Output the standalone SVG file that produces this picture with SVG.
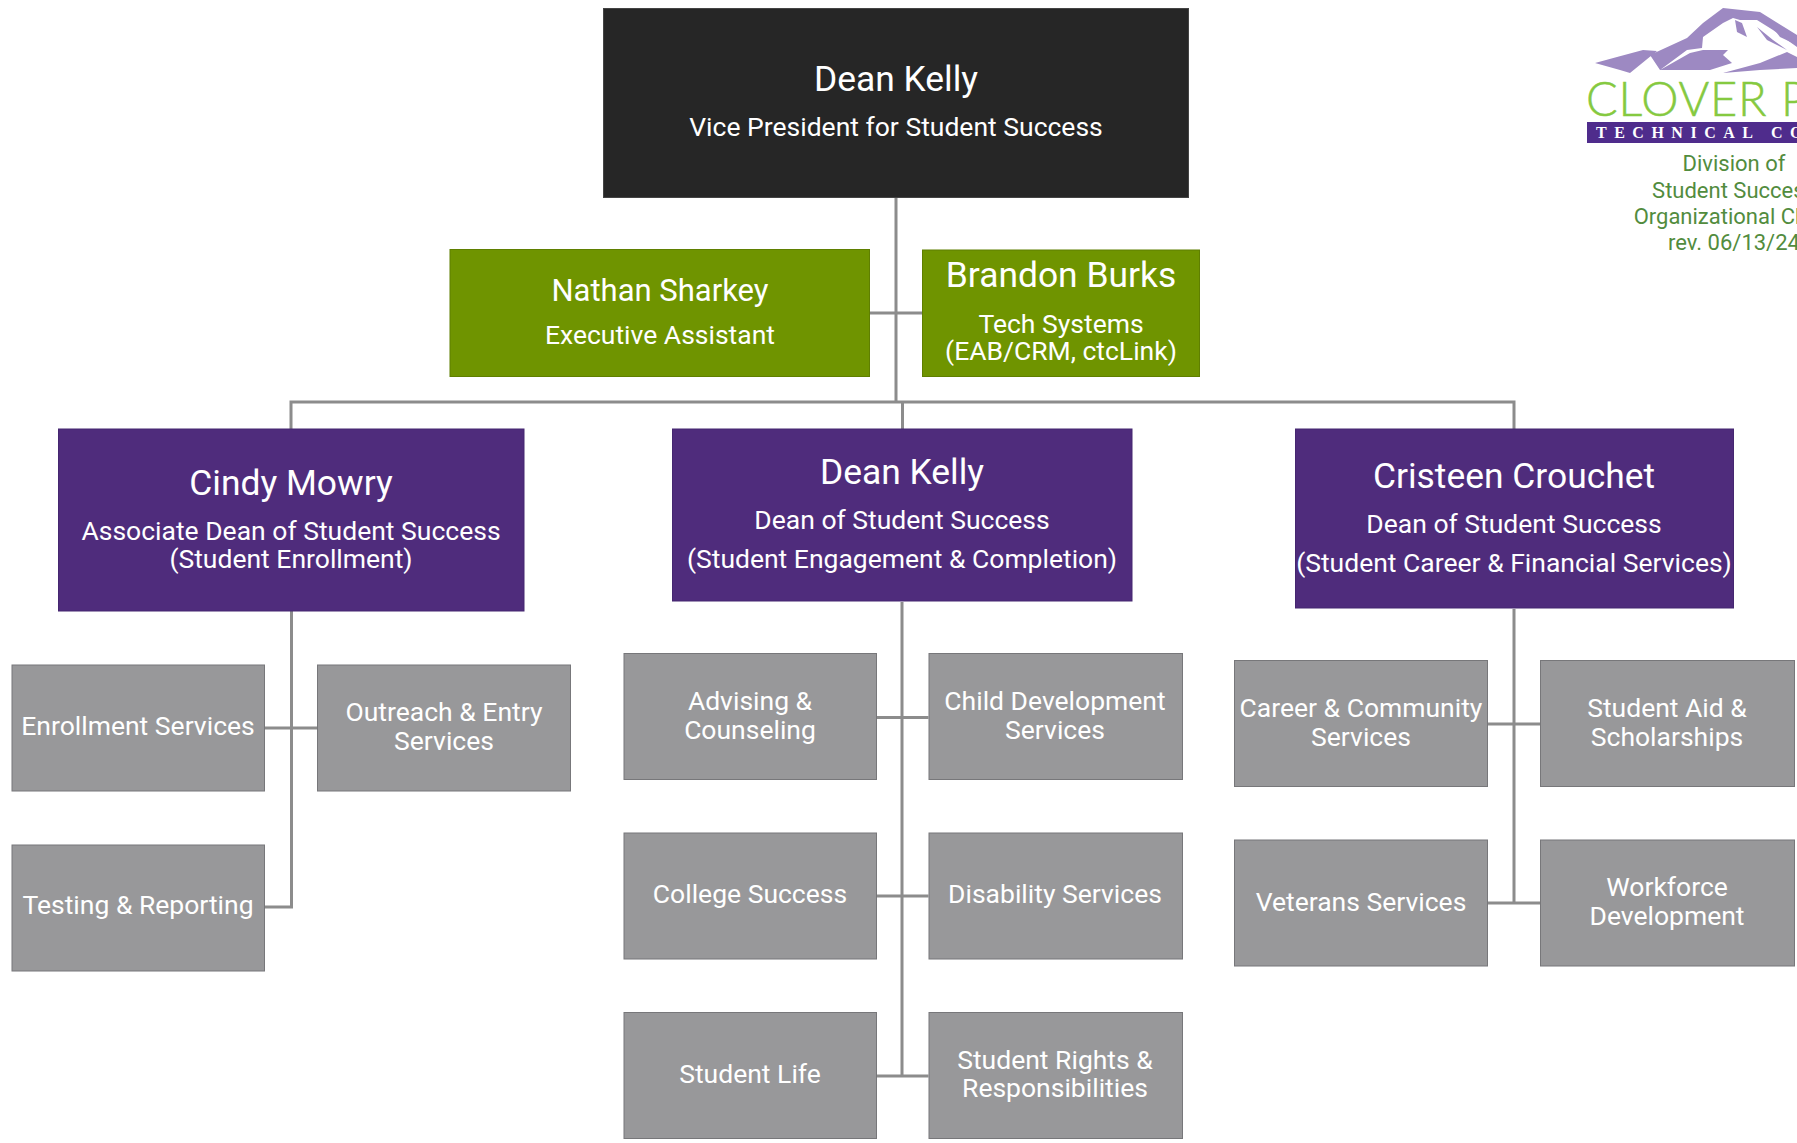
<svg xmlns="http://www.w3.org/2000/svg" width="1797" height="1143" viewBox="0 0 1797 1143">
<style>
text{font-family:Roboto,"Liberation Sans",sans-serif;fill:#fff;text-anchor:middle}
.n{font-size:35.400px}.m{font-size:31px}.s{font-size:26.500px}.g{font-size:26.500px}
.c{fill:none;stroke:#8c8c8c;stroke-width:3}
.bk{fill:#262626;stroke:#444;stroke-width:1}
.gr{fill:#6f9400;stroke:#5f7f00;stroke-width:1}
.pu{fill:#4f2c7c;stroke:#452670;stroke-width:1}
.gy{fill:#98989a;stroke:#77777a;stroke-width:1}
.t{fill:#528c3e;font-size:22px}
.mt{fill:#9d89c2}
</style>
<rect width="1797" height="1143" fill="#fff"/>
<g id="connectors" class="c">
<path class="c" d="M896 198V402M870 313H922M291 429V402H1514V429M902.500 402V429"/>
<path class="c" d="M291.500 611V907H265M265 728H317"/>
<path class="c" d="M902 602V1076M877 717.500H928.500M877 896H928.500M877 1076H928.500"/>
<path class="c" d="M1514 609V903M1488 724H1540M1488 903H1540"/>
</g>
<g id="n-vp"><rect class="bk" x="603.500" y="8.500" width="585" height="189"/><text class="n" x="896" y="90.500">Dean Kelly</text><text class="s" x="896" y="136">Vice President for Student Success</text></g>
<g id="n-nathan"><rect class="gr" x="450" y="249.500" width="419.500" height="127"/><text class="m" x="660" y="301">Nathan Sharkey</text><text class="s" x="660" y="343.500">Executive Assistant</text></g>
<g id="n-brandon"><rect class="gr" x="922.500" y="250" width="277" height="126.500"/><text class="n" x="1061" y="286.500">Brandon Burks</text><text class="s" x="1061" y="333">Tech Systems</text><text class="s" x="1061" y="360">(EAB/CRM, ctcLink)</text></g>
<g id="n-cindy"><rect class="pu" x="58.500" y="429" width="465.500" height="182"/><text class="n" x="291" y="494.500">Cindy Mowry</text><text class="s" x="291" y="540">Associate Dean of Student Success</text><text class="s" x="291" y="568">(Student Enrollment)</text></g>
<g id="n-dean2"><rect class="pu" x="672.500" y="429" width="459.500" height="172"/><text class="n" x="902" y="483.500">Dean Kelly</text><text class="s" x="902" y="529">Dean of Student Success</text><text class="s" x="902" y="568">(Student Engagement &amp; Completion)</text></g>
<g id="n-cristeen"><rect class="pu" x="1295.500" y="429" width="438" height="179"/><text class="n" x="1514" y="487.500">Cristeen Crouchet</text><text class="s" x="1514" y="533">Dean of Student Success</text><text class="s" x="1514" y="572">(Student Career &amp; Financial Services)</text></g>
<g id="n-enroll"><rect class="gy" x="12" y="665" width="252.500" height="126"/><text class="g" x="138" y="735">Enrollment Services</text></g>
<g id="n-outreach"><rect class="gy" x="317.500" y="665" width="253" height="126"/><text class="g" x="444" y="721">Outreach &amp; Entry</text><text class="g" x="444" y="750">Services</text></g>
<g id="n-testing"><rect class="gy" x="12" y="845" width="252.500" height="126"/><text class="g" x="138" y="914">Testing &amp; Reporting</text></g>
<g id="n-advising"><rect class="gy" x="624" y="653.500" width="252.500" height="126"/><text class="g" x="750" y="710">Advising &amp;</text><text class="g" x="750" y="739">Counseling</text></g>
<g id="n-child"><rect class="gy" x="929" y="653.500" width="253.500" height="126"/><text class="g" x="1055" y="710">Child Development</text><text class="g" x="1055" y="739">Services</text></g>
<g id="n-college"><rect class="gy" x="624" y="833" width="252.500" height="126"/><text class="g" x="750" y="903">College Success</text></g>
<g id="n-disability"><rect class="gy" x="929" y="833" width="253.500" height="126"/><text class="g" x="1055" y="903">Disability Services</text></g>
<g id="n-life"><rect class="gy" x="624" y="1012.500" width="252.500" height="126"/><text class="g" x="750" y="1083">Student Life</text></g>
<g id="n-rights"><rect class="gy" x="929" y="1012.500" width="253.500" height="126"/><text class="g" x="1055" y="1069">Student Rights &amp;</text><text class="g" x="1055" y="1097">Responsibilities</text></g>
<g id="n-career"><rect class="gy" x="1234.500" y="660.500" width="253" height="126"/><text class="g" x="1361" y="717">Career &amp; Community</text><text class="g" x="1361" y="746">Services</text></g>
<g id="n-aid"><rect class="gy" x="1540.500" y="660.500" width="254" height="126"/><text class="g" x="1667" y="717">Student Aid &amp;</text><text class="g" x="1667" y="746">Scholarships</text></g>
<g id="n-veterans"><rect class="gy" x="1234.500" y="840" width="253" height="126"/><text class="g" x="1361" y="911">Veterans Services</text></g>
<g id="n-workforce"><rect class="gy" x="1540.500" y="840" width="254" height="126"/><text class="g" x="1667" y="896">Workforce</text><text class="g" x="1667" y="925">Development</text></g>
<g id="logo">
<path class="mt" d="M1595 63L1617 57 1643 50 1657 51 1630 73 1620 70ZM1650 55L1687 38 1703 23 1723 8 1760 12 1797 35V47L1773 30 1757 20 1740 20 1733 18 1723 23 1703 37 1702 48 1687 50 1660 70ZM1660 70L1690 53 1703 50 1728 50 1723 55 1732 63 1710 70ZM1723 73L1760 63 1787 52 1797 57V68L1760 70Z"/>
<path class="mt" d="M1735 20L1742 23 1747 37 1737 32ZM1757 27L1773 40 1787 50 1767 40ZM1773 28L1797 42V45L1780 37Z"/>
<text x="1586" y="116" style="fill:#85c940;stroke:#85c940;stroke-width:.5px;font-family:Lato,sans-serif;font-weight:300;font-size:47px;letter-spacing:.8px;text-anchor:start">CLOVER PARK</text>
<rect x="1587" y="122" width="210" height="21" fill="#4f2c8c"/>
<text x="1596" y="138" style="font-family:'Liberation Serif',serif;font-weight:700;font-size:16px;letter-spacing:7.500px;text-anchor:start">TECHNICAL COLLEGE</text>
<text class="t" x="1734" y="170.500">Division of</text>
<text class="t" x="1734" y="197.500">Student Success</text>
<text class="t" x="1734" y="223.500">Organizational Chart</text>
<text class="t" x="1734" y="249.500">rev. 06/13/24</text>
</g>
</svg>
